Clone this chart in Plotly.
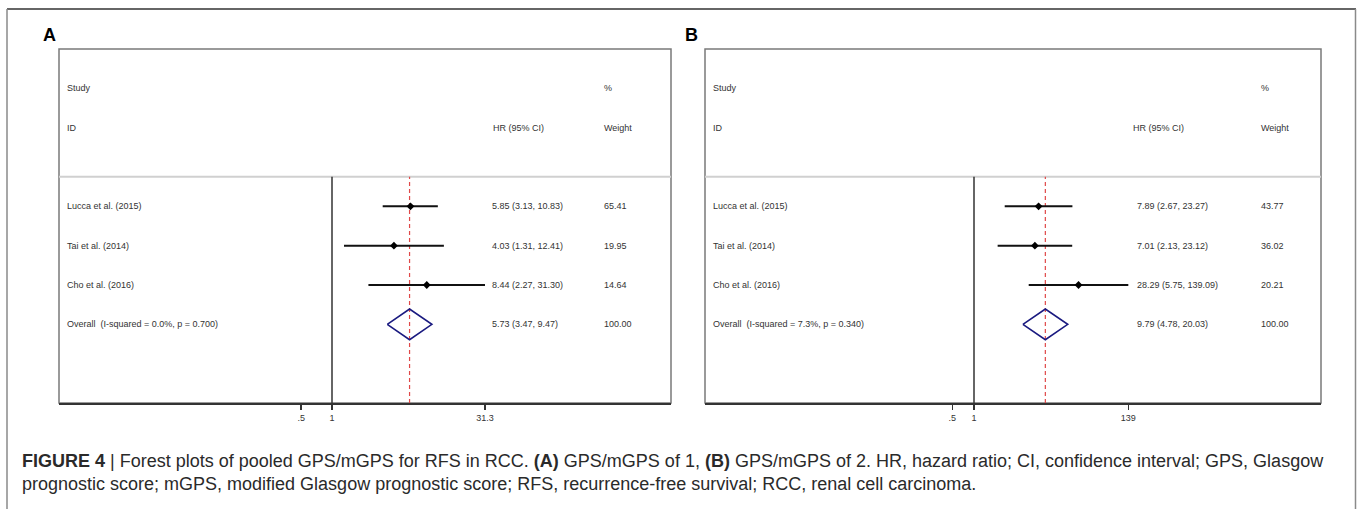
import plotly.graph_objects as go

# ---------------- data ----------------
studies = ["Lucca et al. (2015)", "Tai et al. (2014)", "Cho et al. (2016)"]

hr_A = [5.85, 4.03, 8.44]
lo_A = [3.13, 1.31, 2.27]
hi_A = [10.83, 12.41, 31.30]
wt_A = [65.41, 19.95, 14.64]
overall_A = [5.73, 3.47, 9.47]
overall_label_A = "Overall\u00a0 (I-squared = 0.0%, p = 0.700)"
ticks_A = [0.5, 1, 31.3]
ticklabels_A = [".5", "1", "31.3"]

hr_B = [7.89, 7.01, 28.29]
lo_B = [2.67, 2.13, 5.75]
hi_B = [23.27, 23.12, 139.09]
wt_B = [43.77, 36.02, 20.21]
overall_B = [9.79, 4.78, 20.03]
overall_label_B = "Overall\u00a0 (I-squared = 7.3%, p = 0.340)"
ticks_B = [0.5, 1, 139]
ticklabels_B = [".5", "1", "139"]

caption1 = ("<b>FIGURE 4</b> | Forest plots of pooled GPS/mGPS for RFS in RCC. <b>(A)</b> GPS/mGPS of 1, "
            "<b>(B)</b> GPS/mGPS of 2. HR, hazard ratio; CI, confidence interval; GPS, Glasgow")
caption2 = ("prognostic score; mGPS, modified Glasgow prognostic score; RFS, recurrence-free survival; "
            "RCC, renal cell carcinoma.")

# ---------------- layout constants ----------------
W, H = 1357, 509
def px(x): return x / W
def py(y): return 1 - y / H

SANS = "Liberation Sans, Arial, sans-serif"
TXT = "#333333"

fig = go.Figure()

panels = [
    dict(name="A", studies=studies, hr=hr_A, lo=lo_A, hi=hi_A, wt=wt_A, ov=overall_A,
         ovlabel=overall_label_A, ticks=ticks_A, ticklabels=ticklabels_A,
         box=(59, 671), one=332, k=102.3, xa="x", ya="y", lab_x=65, hr_x=490, hrh_x=491, wt_x=602,
         letter_x=41),
    dict(name="B", studies=studies, hr=hr_B, lo=lo_B, hi=hi_B, wt=wt_B, ov=overall_B,
         ovlabel=overall_label_B, ticks=ticks_B, ticklabels=ticklabels_B,
         box=(705, 1321), one=974, k=72.0, xa="x2", ya="y2", lab_x=711, hr_x=1135, hrh_x=1131, wt_x=1259,
         letter_x=683),
]

box_top, box_bot = 49, 403
ymax = 9.0
sep_y = 5.75
overall_y = 2
annotations = []
shapes = []

for i, p in enumerate(panels):
    xa, ya = p["xa"], p["ya"]
    n = len(p["studies"])
    rows = [overall_y + n - j for j in range(n)]

    # vertical line at HR = 1
    fig.add_trace(go.Scatter(x=[1, 1], y=[0, sep_y], mode="lines",
                             line=dict(color="#333333", width=1.5),
                             xaxis=xa, yaxis=ya, showlegend=False, hoverinfo="skip"))
    # dashed overall effect line
    fig.add_trace(go.Scatter(x=[p["ov"][0], p["ov"][0]], y=[0, sep_y], mode="lines",
                             line=dict(color="#e04848", width=1.2, dash="4px,3px"),
                             xaxis=xa, yaxis=ya, showlegend=False, hoverinfo="skip"))
    # CIs
    for j in range(n):
        fig.add_trace(go.Scatter(x=[p["lo"][j], p["hi"][j]], y=[rows[j], rows[j]], mode="lines",
                                 line=dict(color="#111111", width=2),
                                 xaxis=xa, yaxis=ya, showlegend=False, hoverinfo="skip"))
    fig.add_trace(go.Scatter(x=p["hr"], y=rows, mode="markers",
                             marker=dict(symbol="diamond", size=6, color="#000000"),
                             xaxis=xa, yaxis=ya, showlegend=False, hoverinfo="skip"))
    # overall diamond
    est, lo, hi = p["ov"]
    h = 0.39
    fig.add_trace(go.Scatter(x=[lo, est, hi, est, lo], y=[overall_y, overall_y + h, overall_y, overall_y - h, overall_y],
                             mode="lines", line=dict(color="#1a1a80", width=1.6),
                             xaxis=xa, yaxis=ya, showlegend=False, hoverinfo="skip"))

    # box
    shapes.append(dict(type="rect", xref=f"{xa} domain", yref=f"{ya} domain", x0=0, x1=1, y0=0, y1=1,
                       line=dict(color="#7a7a7a", width=1.5), layer="below"))
    # separator
    shapes.append(dict(type="line", xref=f"{xa} domain", yref=ya, x0=0, x1=1, y0=sep_y, y1=sep_y,
                       line=dict(color="#d0d0d0", width=2), layer="below"))

    # text columns
    def add_text(x, y, text, size=9, font=SANS, color=TXT):
        annotations.append(dict(x=px(x), y=y, xref="paper", yref=ya, text=text, showarrow=False,
                                xanchor="left", yanchor="middle", font=dict(family=font, size=size, color=color)))
    add_text(p["lab_x"], 8, "Study")
    add_text(p["lab_x"], 7, "ID")
    add_text(p["hrh_x"], 7, "HR (95% CI)")
    add_text(p["wt_x"], 8, "%")
    add_text(p["wt_x"], 7, "Weight")
    for j in range(n):
        add_text(p["lab_x"], rows[j], p["studies"][j])
        add_text(p["hr_x"], rows[j], f"{p['hr'][j]:.2f} ({p['lo'][j]:.2f}, {p['hi'][j]:.2f})")
        add_text(p["wt_x"], rows[j], f"{p['wt'][j]:.2f}")
    add_text(p["lab_x"], overall_y, p["ovlabel"])
    add_text(p["hr_x"], overall_y, f"{est:.2f} ({lo:.2f}, {hi:.2f})")
    add_text(p["wt_x"], overall_y, f"{100:.2f}")

    # panel letter
    annotations.append(dict(x=px(p["letter_x"]), y=py(35), xref="paper", yref="paper", text=f"<b>{p['name']}</b>",
                            showarrow=False, xanchor="left", yanchor="middle",
                            font=dict(family=SANS, size=18, color="#000000")))

    x0, x1 = p["box"]
    rng = [(x0 - p["one"]) / p["k"], (x1 - p["one"]) / p["k"]]
    axname = "xaxis" if i == 0 else "xaxis2"
    yname = "yaxis" if i == 0 else "yaxis2"
    fig.update_layout(**{
        axname: dict(type="log", range=rng, domain=[px(x0), px(x1)], anchor=ya,
                     showgrid=False, zeroline=False, showline=True, linecolor="#333333", linewidth=2,
                     ticks="outside", ticklen=5, tickwidth=1.5, tickcolor="#333333",
                     tickvals=p["ticks"], ticktext=p["ticklabels"],
                     tickfont=dict(family=SANS, size=9, color=TXT), fixedrange=True),
        yname: dict(range=[0, ymax], domain=[py(box_bot), py(box_top)], anchor=xa,
                    visible=False, fixedrange=True),
    })

# outer frame
shapes.append(dict(type="line", xref="paper", yref="paper", x0=px(7), x1=px(1356), y0=py(9), y1=py(9),
                   line=dict(color="#333333", width=1.5)))
shapes.append(dict(type="line", xref="paper", yref="paper", x0=px(7), x1=px(7), y0=py(9), y1=0,
                   line=dict(color="#8a8a8a", width=1.5)))
shapes.append(dict(type="line", xref="paper", yref="paper", x0=px(1355.5), x1=px(1355.5), y0=py(9), y1=0,
                   line=dict(color="#8a8a8a", width=1.5)))

# caption
annotations.append(dict(x=px(20), y=py(461), xref="paper", yref="paper", text=caption1, showarrow=False,
                        xanchor="left", yanchor="middle", font=dict(family=SANS, size=18, color="#2a2a2a")))
annotations.append(dict(x=px(20), y=py(484), xref="paper", yref="paper", text=caption2, showarrow=False,
                        xanchor="left", yanchor="middle", font=dict(family=SANS, size=18, color="#2a2a2a")))

fig.update_layout(width=W, height=H, margin=dict(l=0, r=0, t=0, b=0),
                  paper_bgcolor="white", plot_bgcolor="white",
                  shapes=shapes, annotations=annotations, showlegend=False)

fig.write_html("out.html", config={"displayModeBar": False, "staticPlot": True},
               post_script="document.body.style.margin='0px';document.body.style.overflow='hidden';")
